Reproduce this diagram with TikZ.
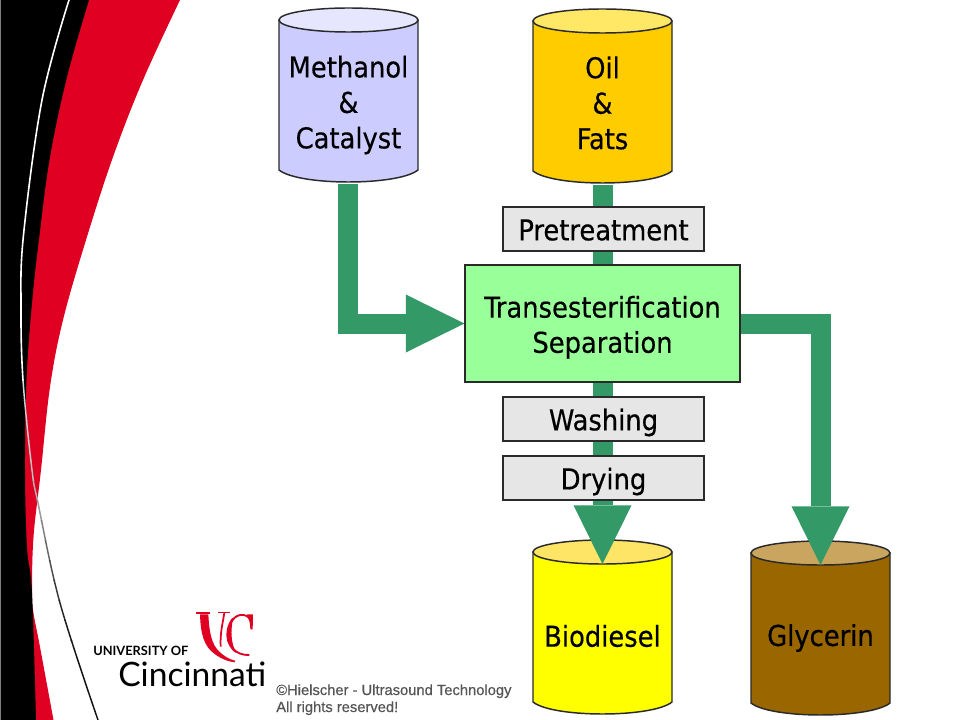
\documentclass[tikz,border=0pt]{standalone}
\usepackage{fontspec}
\setmainfont{DejaVu Sans Condensed}[RawFeature={embolden=0.4}]
\newfontfamily\logofont{Lato}
\newfontfamily\capfont{Liberation Sans}[RawFeature={embolden=0.4}]
\usetikzlibrary{arrows.meta}
\definecolor{flowgreen}{HTML}{339966}
\definecolor{ucred}{HTML}{E00122}
\definecolor{edge}{HTML}{2A2A2A}
\definecolor{stepfill}{HTML}{E6E6E6}
\definecolor{procfill}{HTML}{99FF99}
\definecolor{methbody}{HTML}{CCCCFF}
\definecolor{methlid}{HTML}{E6E6FF}
\definecolor{oilbody}{HTML}{FFCC00}
\definecolor{oillid}{HTML}{FFE866}
\definecolor{biobody}{HTML}{FFFF00}
\definecolor{biolid}{HTML}{FFE566}
\definecolor{glybody}{HTML}{996600}
\definecolor{glylid}{HTML}{C9A560}
\definecolor{captext}{HTML}{555555}
\tikzset{
  x=0.75pt,y=-0.75pt,
  flowline/.style={draw=flowgreen,line width=15pt,shorten >=0.5pt,shorten <=0.5pt},
  flowarrow/.style={draw=flowgreen,line width=15pt,-{Triangle[length=44pt,width=43.5pt,line width=0pt]}},
  stepbox/.style={draw=edge,line width=1.1pt,fill=stepfill,minimum width=150.75pt,minimum height=33pt,inner sep=0pt,text height=22pt,text depth=5pt,font=\fontsize{21.5}{26}\selectfont},
  procbox/.style={draw=edge,line width=1.1pt,fill=procfill,minimum width=206pt,minimum height=87.75pt,inner sep=0pt,font=\fontsize{21.5}{26.4}\selectfont,align=center},
  cyllabel/.style={inner sep=0pt,align=center,font=\fontsize{21.5}{26.6}\selectfont},
  cylline/.style={draw=edge,line width=1.1pt},
}
% #1 name, #2 x left, #3 x right, #4 lid top, #5 lid bottom, #6 base, #7 body colour, #8 lid colour
\newcommand{\barrel}[8]{%
  \pgfmathsetmacro{\cx}{(#2+#3)/2}\pgfmathsetmacro{\rx}{(#3-#2)/2}%
  \pgfmathsetmacro{\ry}{(#5-#4)/2}\pgfmathsetmacro{\cy}{(#4+#5)/2}%
  \pgfmathsetmacro{\by}{#6-\ry}%
  \path[cylline,fill=#7] (#2,\cy) -- (#2,\by) .. controls (#2+20,#6+4) and (#3-20,#6+4) .. (#3,\by) -- (#3,\cy) -- cycle;
  \path[cylline,fill=#8] (\cx,\cy) ellipse [x radius=\rx,y radius=\ry];
  \coordinate (#1-lid) at (\cx,#5);
  \coordinate (#1-base) at (\cx,#6);
}
\begin{document}
\begin{tikzpicture}
\useasboundingbox (0,0) rectangle (960,720);
\fill[white] (0,0) rectangle (960,720);

% swoosh
\def\redR{(180,0) (143,80) (113,157) (86,240) (63,320) (50,387) (41,470) (33.5,537) (32,593) (33.5,613) (40,647) (53.5,720)}
\def\blkR{(89,0) (67,77) (50,157) (39.5,235) (32,303) (26.5,380) (25,470) (27,547) (32,593) (36,720)}
\fill[ucred] plot[smooth,tension=0.6] coordinates {\redR} -- (0,720) -- (0,0) -- cycle;
\fill[black] plot[smooth,tension=0.6] coordinates {\blkR} -- (0,720) -- (0,0) -- cycle;
\fill[gray] (0,0) rectangle (1,720);
\def\linepts{(69,0) (42,100) (23.5,235) (21,307) (23,380) (32,470) (38,503) (60,603) (98,720)}
\begin{scope}
  \clip (0,0) rectangle (200,380);
  \draw[white,line width=1.2pt] plot[smooth,tension=0.6] coordinates {\linepts};
\end{scope}
\foreach \yy/\sh in {380/15,400/20,420/20,440/20,460/25,480/30,500/40,520/50,540/60,560/70,580/78,600/85,620/90}{
  \begin{scope}
    \clip (0,\yy) rectangle (200,\yy+20);
    \draw[black!\sh!white,line width=1.1pt] plot[smooth,tension=0.6] coordinates {\linepts};
  \end{scope}
}
\begin{scope}
  \clip (0,640) rectangle (200,720);
  \draw[black!92!white,line width=1.1pt] plot[smooth,tension=0.6] coordinates {\linepts};
\end{scope}

% logo
\begin{scope}[shift={(190,605)},scale=1/3]
  \fill[ucred] (18,21) rectangle (60,28);
  \fill[ucred] (30,28) .. controls (32,85) and (40,125) .. (78,150) .. controls (95,162) and (115,170) .. (135,172) -- (135,167) .. controls (118,163) and (100,152) .. (88,140) .. controls (65,118) and (58,85) .. (55,28) -- cycle;
  \fill[ucred] (85,20) rectangle (120,24);
  \draw[ucred,line width=1.3pt] (103,24) .. controls (98,55) and (90,85) .. (92,125);
  \draw[ucred,line width=1.4pt] (178,38) .. controls (155,20) and (125,30) .. (115,75) .. controls (110,120) and (135,152) .. (178,150);
  \fill[ucred] (124,42) .. controls (104,70) and (100,118) .. (138,144) .. controls (124,115) and (120,80) .. (130,38) -- cycle;
  \fill[ucred] (172,28) -- (189,28) -- (188,73) -- (181,73) .. controls (181,55) and (178,42) .. (170,35) -- cycle;
\end{scope}
\node[inner sep=0pt,anchor=base west,font=\logofont\bfseries\fontsize{9.6}{11}\selectfont,text=black] (ucuni) at (93,655) {UNIVERSITY OF};
\node[inner sep=0pt,anchor=base west,font=\logofont\fontsize{25.2}{30}\selectfont,text=black] (uccin) at (118,686) {Cincinnati};
\node[inner sep=0pt,anchor=base west,font=\capfont\fontsize{11.05}{13}\selectfont,text=captext] (cap1) at (276,695) {©Hielscher - Ultrasound Technology};
\node[inner sep=0pt,anchor=base west,font=\capfont\fontsize{11.05}{13}\selectfont,text=captext] (cap2) at (276,712) {All rights reserved!};

% barrels
\barrel{meth}{279}{418}{8}{32}{182}{methbody}{methlid}
\barrel{oil}{533}{672}{9}{33}{183}{oilbody}{oillid}
\barrel{bio}{533}{672}{540}{564}{714}{biobody}{biolid}
\barrel{gly}{751}{890}{541}{565}{715}{glybody}{glylid}
\node[cyllabel] (methtext) at (348.5,105) {Methanol\\\&\\Catalyst};
\node[cyllabel] (oiltext) at (602.5,103) {Oil\\\&\\Fats};
\node[cyllabel] (biotext) at (602.5,636) {Biodiesel};
\node[cyllabel] (glytext) at (820.5,638) {Glycerin};

% process boxes
\node[procbox] (proc) at (602.5,323.5) {\rule{0pt}{22pt}Transesterification\\Separation};
\node[stepbox] (pre) at (603.5,229) {Pretreatment};
\node[stepbox] (wash) at (603.5,419) {Washing};
\node[stepbox] (dry) at (603.5,478) {Drying};

% connectors
\draw[flowarrow,shorten <=1.5pt] ([xshift=-0.75pt]meth-base) |- (proc.west);
\draw[flowline,shorten <=1.5pt] (oil-base) -- (oil-base |- pre.north);
\draw[flowline] (oil-base |- pre.south) -- (oil-base |- proc.north);
\draw[flowline] (oil-base |- proc.south) -- (oil-base |- wash.north);
\draw[flowline] (oil-base |- wash.south) -- (oil-base |- dry.north);
\draw[flowarrow,shorten <=0.5pt] (oil-base |- dry.south) -- (bio-lid);
\draw[flowarrow,shorten <=0.5pt] (proc.east) -| (gly-lid);
\end{tikzpicture}
\end{document}
